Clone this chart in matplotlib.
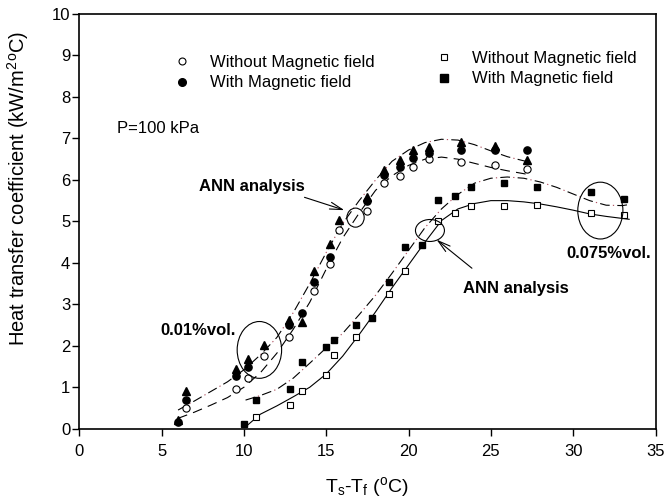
import matplotlib
matplotlib.use("Agg")
import matplotlib.pyplot as plt
from matplotlib.patches import Ellipse
from matplotlib.lines import Line2D

plt.rcParams['font.family'] = ['Liberation Sans', 'DejaVu Sans']
plt.rcParams['mathtext.fontset'] = 'custom'
plt.rcParams['mathtext.rm'] = 'Liberation Sans'
plt.rcParams['mathtext.it'] = 'Liberation Sans:italic'
plt.rcParams['lines.scale_dashes'] = False

# ---- measured data: 0.01 vol.% ----
x_01 = [6.5, 9.5, 10.24, 11.25, 12.73, 14.27, 15.24, 15.75, 17.5, 18.48,
        19.5, 20.25, 21.26, 23.2, 25.27, 27.22]
h_01_without = [0.49, 0.96, 1.22, 1.76, 2.20, 3.33, 3.98, 4.79, 5.25, 5.93,
                6.10, 6.31, 6.51, 6.43, 6.37, 6.26]

x_01_with = [6.02, 6.5, 9.5, 10.24, 12.73, 13.52, 14.27, 15.24, 17.5, 18.48,
             19.5, 20.25, 21.26, 23.2, 25.27, 27.22]
h_01_with = [0.15, 0.69, 1.28, 1.50, 2.50, 2.78, 3.53, 4.15, 5.48, 6.12,
             6.31, 6.52, 6.64, 6.72, 6.72, 6.72]

x_01_tri = [6.02, 6.5, 9.5, 10.24, 11.25, 12.73, 13.52, 14.27, 15.24, 15.75,
            17.5, 18.48, 19.5, 20.25, 21.26, 23.2, 25.27, 27.22]
h_01_tri = [0.22, 0.91, 1.43, 1.68, 2.02, 2.61, 2.58, 3.80, 4.45, 5.03,
            5.58, 6.24, 6.47, 6.72, 6.80, 6.92, 6.82, 6.48]

# ---- measured data: 0.075 vol.% ----
x_075_without = [10.75, 12.77, 13.5, 15.0, 15.5, 16.8, 18.8, 19.8, 21.8, 22.8,
                 23.8, 25.8, 27.8, 31.1, 33.1]
h_075_without = [0.29, 0.57, 0.90, 1.30, 1.77, 2.20, 3.26, 3.80, 5.01, 5.21,
                 5.36, 5.37, 5.40, 5.19, 5.16]

x_075_with = [10.0, 10.75, 12.77, 13.5, 15.0, 15.5, 16.8, 17.8, 18.8, 19.8,
              20.8, 21.8, 22.8, 23.8, 25.8, 27.8, 31.1, 33.1]
h_075_with = [0.11, 0.69, 0.96, 1.60, 1.97, 2.13, 2.50, 2.66, 3.54, 4.39,
              4.43, 5.52, 5.60, 5.84, 5.93, 5.82, 5.72, 5.53]

# ---- ANN analysis curves ----
ann_x_01_with = [6.0, 7, 8, 9, 10, 11, 12, 13, 14, 15, 16, 17, 18, 19, 20,
                 21, 22, 23, 24, 25, 26, 27, 27.4]
ann_h_01_with = [0.45, 0.67, 0.9, 1.13, 1.42, 1.78, 2.2, 2.8, 3.5, 4.25, 4.95,
                 5.5, 6.0, 6.45, 6.72, 6.9, 6.98, 6.96, 6.85, 6.7, 6.56, 6.46, 6.42]

ann_x_01_without = [6.0, 7, 8, 9, 10, 11, 12, 13, 14, 15, 16, 17, 18, 19, 20,
                    21, 22, 23, 24, 25, 26, 27, 27.4]
ann_h_01_without = [0.25, 0.4, 0.57, 0.75, 1.0, 1.35, 1.82, 2.4, 3.05, 3.85,
                    4.6, 5.2, 5.75, 6.1, 6.35, 6.5, 6.55, 6.5, 6.4, 6.3, 6.22,
                    6.15, 6.12]

ann_x_075_with = [10.1, 11, 12, 13, 14, 15, 16, 17, 18, 19, 20, 21, 22, 23,
                  24, 25, 26, 27, 28, 29, 30, 31, 32, 33, 33.3]
ann_h_075_with = [0.69, 0.8, 0.95, 1.22, 1.58, 1.95, 2.3, 2.75, 3.22, 3.75,
                  4.3, 4.85, 5.3, 5.65, 5.92, 6.04, 6.07, 6.04, 5.95, 5.82,
                  5.66, 5.5, 5.39, 5.38, 5.4]

ann_x_075_without = [10.2, 11, 12, 13, 14, 15, 16, 17, 18, 19, 20, 21, 22, 23,
                     24, 25, 26, 27, 28, 29, 30, 31, 32, 33, 33.4]
ann_h_075_without = [0.08, 0.35, 0.55, 0.77, 1.0, 1.32, 1.75, 2.27, 2.82, 3.4,
                     3.95, 4.5, 5.02, 5.3, 5.43, 5.5, 5.5, 5.47, 5.42, 5.35,
                     5.27, 5.18, 5.12, 5.07, 5.05]

x_ticks = [0, 5, 10, 15, 20, 25, 30, 35]
y_ticks = [0, 1, 2, 3, 4, 5, 6, 7, 8, 9, 10]

fig = plt.figure(figsize=(6.64, 5.01), dpi=100)
ax = fig.add_axes([0.1194, 0.1443, 0.8678, 0.8277])

lw = 0.8
dash_black = (0, (7.0, 5.5))
dot_red = (3.2, (0.9, 11.6))

# ANN curves
ax.plot(ann_x_01_with, ann_h_01_with, color='black', lw=lw, ls=dash_black, zorder=2)
ax.plot(ann_x_01_with, ann_h_01_with, color='#b05060', lw=lw, ls=dot_red, zorder=2)
ax.plot(ann_x_01_without, ann_h_01_without, color='black', lw=lw,
        ls=(0, (7.0, 4.5)), zorder=2)
ax.plot(ann_x_075_with, ann_h_075_with, color='black', lw=lw, ls=dash_black, zorder=2)
ax.plot(ann_x_075_with, ann_h_075_with, color='#b05060', lw=lw, ls=dot_red, zorder=2)
ax.plot(ann_x_075_without, ann_h_075_without, color='black', lw=lw, ls='-', zorder=2)

# Measured points
ms = 5.2
ax.plot(x_01, h_01_without, 'o', ms=ms, mfc='white', mec='black', mew=0.8, zorder=3)
ax.plot(x_01_with, h_01_with, 'o', ms=ms, mfc='black', mec='black', zorder=3)
ax.plot(x_01_tri, h_01_tri, '^', ms=6.2, mfc='black', mec='black', zorder=4)
ax.plot(x_075_without, h_075_without, 's', ms=5.0, mfc='white', mec='black',
        mew=0.8, zorder=3)
ax.plot(x_075_with, h_075_with, 's', ms=5.0, mfc='black', mec='black', zorder=3)

# Highlight ellipses
for cx, cy, w, h in [(10.94, 1.9, 2.7, 1.37), (31.65, 5.26, 2.74, 1.37),
                     (16.78, 5.09, 1.05, 0.46), (21.3, 4.78, 1.76, 0.53)]:
    ax.add_patch(Ellipse((cx, cy), w, h, fill=False, lw=lw, ec='black', zorder=5))

# Annotations
fs = 12
ax.text(10.48, 5.83, 'ANN analysis', fontsize=fs, fontweight='bold',
        ha='center', va='center')
ax.annotate('', xy=(16.1, 5.27), xytext=(13.68, 5.58),
            arrowprops=dict(arrowstyle='->,head_length=0.9,head_width=0.25',
                            lw=lw, color='black', shrinkA=0, shrinkB=0))
ax.text(26.53, 3.38, 'ANN analysis', fontsize=fs, fontweight='bold',
        ha='center', va='center')
ax.annotate('', xy=(21.7, 4.56), xytext=(23.85, 3.87),
            arrowprops=dict(arrowstyle='->,head_length=0.9,head_width=0.25',
                            lw=lw, color='black', shrinkA=0, shrinkB=0))
ax.text(7.23, 2.36, '0.01%vol.', fontsize=fs, fontweight='bold',
        ha='center', va='center')
ax.text(32.16, 4.22, '0.075%vol.', fontsize=fs, fontweight='bold',
        ha='center', va='center')
ax.text(2.27, 7.23, 'P=100 kPa', fontsize=fs, ha='left', va='center')

# Legends
def make_leg(marker, anchor):
    handles = [Line2D([], [], ls='none', marker=marker, ms=5, mfc='white',
                      mec='black', mew=0.8),
               Line2D([], [], ls='none', marker=marker, ms=5.5, mfc='black',
                      mec='black')]
    leg = ax.legend(handles, ['Without Magnetic field', 'With Magnetic field'],
                    loc='upper left', bbox_to_anchor=anchor,
                    bbox_transform=fig.transFigure, frameon=False,
                    fontsize=12, handlelength=1.0, handletextpad=1.18,
                    labelspacing=0.33, borderpad=0, borderaxespad=0)
    return leg

leg1 = make_leg('o', (174 / 664, 1 - 55 / 501))
ax.add_artist(leg1)
make_leg('s', (436 / 664, 1 - 51 / 501))

ax.set_xlim(0, 35)
ax.set_ylim(0, 10)
ax.set_xticks(x_ticks)
ax.set_yticks(y_ticks)
ax.tick_params(direction='out', length=5, width=1, labelsize=12)
ax.tick_params(axis='x', pad=6)
ax.tick_params(axis='y', pad=1.5)
for s in ax.spines.values():
    s.set_linewidth(1.2)

ax.set_xlabel('T$_\\mathrm{s}$-T$_\\mathrm{f}$ ($^\\mathrm{o}$C)', fontsize=14)
ax.xaxis.set_label_coords(0.5, -0.112)
ax.set_ylabel('Heat transfer coefficient (kW/m$^\\mathrm{2}$$^\\mathrm{o}$C)',
              fontsize=14.5)
ax.yaxis.set_label_coords(-0.083, 0.58)

fig.savefig('out.png', dpi=100)
